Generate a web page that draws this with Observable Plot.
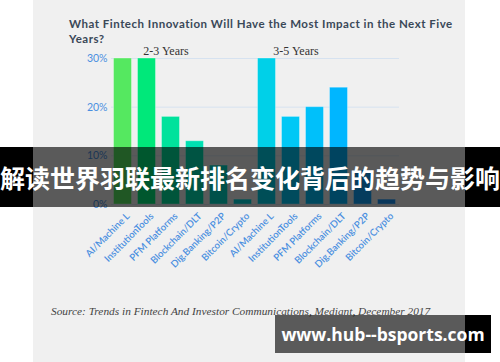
<!DOCTYPE html>
<html>
<head>
<meta charset="utf-8">
<script src="https://cdn.jsdelivr.net/npm/d3@7"></script>
<script src="https://cdn.jsdelivr.net/npm/@observablehq/plot@0.6"></script>
<style>
  html, body { margin: 0; padding: 0; background: #ffffff; }
  #wrap { position: relative; width: 500px; height: 362px; overflow: hidden; background: #ffffff; }
  #panel { position: absolute; left: 33px; top: 0; width: 432px; height: 362px; background: #f0f0f0; }
  #title { position: absolute; left: 69px; top: 17px; width: 392px; font-family: Lato, sans-serif; font-weight: 700; font-size: 11.5px; letter-spacing: 0.5px; line-height: 14.5px; color: #3a4858; }
  #chart { position: absolute; left: 0; top: 0; }
  #caption { position: absolute; left: 51px; top: 305px; font-family: "Liberation Serif", serif; font-style: italic; font-size: 11.35px; color: #444; white-space: nowrap; }
  .blk { position: absolute; background: #000; }
  .shade { position: absolute; background: rgba(0,0,0,0.625); }
  #banner { position: absolute; left: 0; top: 147px; width: 500px; height: 60px; display: flex; align-items: center; justify-content: center; font-family: "Noto Sans CJK SC", sans-serif; font-weight: 700; font-size: 25px; color: #fff; white-space: nowrap; }
  #wm { position: absolute; left: 275px; top: 315px; width: 216px; height: 38px; display: flex; align-items: center; justify-content: center; font-family: "Open Sans", sans-serif; font-weight: 700; font-size: 17.5px; color: #fff; white-space: nowrap; }
</style>
</head>
<body>
<div id="wrap">
  <div id="panel"></div>
  <div id="title"></div>
  <div id="chart"></div>
  <div id="caption"></div>
  <div class="blk" style="left:0;top:147px;width:33px;height:60px"></div>
  <div class="shade" style="left:33px;top:147px;width:432px;height:60px"></div>
  <div class="blk" style="left:465px;top:147px;width:35px;height:60px"></div>
  <div id="banner"></div>
  <div class="shade" style="left:275px;top:315px;width:190px;height:38px"></div>
  <div class="blk" style="left:465px;top:315px;width:26px;height:38px"></div>
  <div id="wm"></div>
</div>
<script>
const titleText = "What Fintech Innovation Will Have the Most Impact in the Next Five Years?";
const captionText = "Source: Trends in Fintech And Investor Communications, Mediant, December 2017";
const bannerText = "解读世界羽联最新排名变化背后的趋势与影响";
const watermarkText = "www.hub--bsports.com";

const categories = ["AI/Machine L", "InstitutionTools", "PFM Platforms", "Blockchain/DLT", "Dig.Banking/P2P", "Bitcoin/Crypto"];
const periods = ["2-3 Years", "3-5 Years"];
const values23 = [30, 30, 18, 13, 8, 1];
const values35 = [30, 18, 20, 24, 7, 1];
const yTicks = [0, 10, 20, 30];
const barColors = ["#55e860", "#00e87a", "#00e29c", "#00e0b2", "#00d8c4", "#00d2d6",
                   "#00d0e8", "#00c8f6", "#00c0fa", "#00b6ff", "#10a0f8", "#1890f0"];

document.getElementById("title").textContent = titleText;
document.getElementById("caption").textContent = captionText;
document.getElementById("banner").textContent = bannerText;
document.getElementById("wm").textContent = watermarkText;

const seriesValues = [values23, values35];
const rows = periods.flatMap((p, pi) => categories.map((c, ci) => ({
  key: pi + ":" + c, cat: c, period: p, value: seriesValues[pi][ci], color: barColors[pi * categories.length + ci]
})));
const groupLabels = [
  {text: periods[0], key: "0:" + categories[2]},
  {text: periods[1], key: "1:" + categories[1]}
];

const chart = Plot.plot({
  width: 500,
  height: 270,
  marginLeft: 111,
  marginRight: 101,
  marginTop: 58,
  marginBottom: 66,
  style: {background: "transparent", fontFamily: "Lato, sans-serif"},
  x: {domain: rows.map(d => d.key), paddingInner: 0.2, paddingOuter: 0.1},
  y: {domain: [0, 30]},
  color: {type: "identity"},
  marks: [
    Plot.gridY(yTicks, {stroke: "#d6e2f0", strokeOpacity: 1}),
    Plot.barY(rows, {x: "key", y: "value", fill: "color", stroke: "#ffffff", strokeOpacity: 0.35, strokeWidth: 1, insetLeft: 0.5, insetRight: 0.5}),
    Plot.axisY({ticks: yTicks, tickFormat: d => d + "%", tickSize: 0, tickPadding: 4, label: null, fill: "#4a8fe0", fontSize: 10.5}),
    Plot.axisX({tickFormat: k => k.split(":")[1], tickRotate: -45, tickSize: 0, tickPadding: 10, dx: 5, label: null, fill: "#4a8fe0", fontSize: 9.6, fontWeight: 600}),
    Plot.text([groupLabels[0]], {x: "key", y: () => 30, text: "text", dy: -7, dx: -5, fontFamily: "'Liberation Serif', serif", fontSize: 12, fill: "#333"}),
    Plot.text([groupLabels[1]], {x: "key", y: () => 30, text: "text", dy: -7, dx: 5, fontFamily: "'Liberation Serif', serif", fontSize: 12, fill: "#333"})
  ]
});
document.getElementById("chart").appendChild(chart);
</script>
</body>
</html>
